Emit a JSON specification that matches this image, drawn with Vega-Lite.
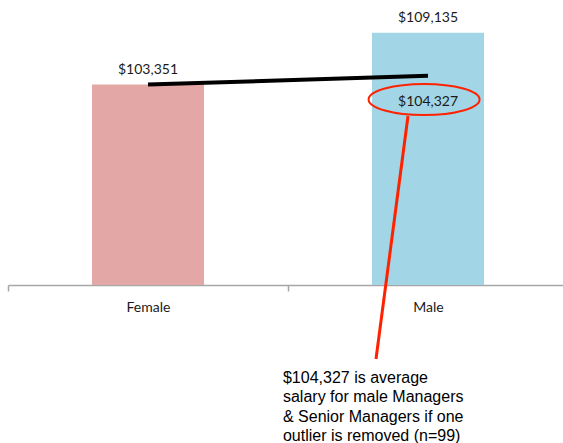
{
  "$schema": "https://vega.github.io/schema/vega-lite/v6.json",
  "width": 560,
  "height": 260,
  "autosize": {"type": "none"},
  "padding": {"left": 8, "top": 25, "right": 0, "bottom": 158},
  "background": "white",
  "config": {"view": {"stroke": null}, "font": "Lato"},
  "datasets": {
    "bars": [
      {"gender": "Female", "salary": 103351, "label": "$103,351"},
      {"gender": "Male", "salary": 109135, "label": "$109,135"}
    ],
    "trend": [
      {"pos": 0.5, "salary": 103351},
      {"pos": 1.5, "salary": 104327}
    ],
    "callout": [
      {"pos": 1.486, "salary": 101690, "label": "$104,327"}
    ],
    "pointer": [
      {"pos": 1.4286, "salary": 99850},
      {"pos": 1.3143, "salary": 72750}
    ],
    "note": [
      {"pos": 0.982, "salary": 70070, "text": "$104,327 is average\nsalary for male Managers\n& Senior Managers if one\noutlier is removed (n=99)"}
    ]
  },
  "layer": [
    {
      "data": {"name": "bars"},
      "layer": [
        {
          "mark": {"type": "bar", "width": {"band": 0.4}},
          "encoding": {
            "x": {
              "field": "gender",
              "type": "nominal",
              "scale": {"paddingInner": 0, "paddingOuter": 0},
              "axis": {
                "title": null,
                "labelAngle": 0,
                "tickBand": "extent",
                "domainColor": "#a6a6a6",
                "domainWidth": 1.5,
                "tickColor": "#a6a6a6",
                "tickWidth": 1.5,
                "tickSize": 6,
                "labelPadding": 9,
                "labelFont": "Lato",
                "labelFontSize": 14,
                "labelColor": "#1a1a1a"
              }
            },
            "y": {
              "field": "salary",
              "type": "quantitative",
              "scale": {"domain": [81000, 110000], "nice": false, "zero": false},
              "axis": null
            },
            "y2": {"datum": 81000},
            "color": {
              "field": "gender",
              "type": "nominal",
              "scale": {"domain": ["Female", "Male"], "range": ["#e3a7a5", "#a2d5e5"]},
              "legend": null
            }
          }
        },
        {
          "mark": {"type": "text", "baseline": "alphabetic", "dy": -11, "fontSize": 14, "font": "Lato", "color": "#1a1a1a"},
          "encoding": {
            "x": {"field": "gender", "type": "nominal"},
            "y": {"field": "salary", "type": "quantitative"},
            "text": {"field": "label"}
          }
        }
      ]
    },
    {
      "layer": [
        {
          "data": {"name": "trend"},
          "mark": {"type": "line", "color": "#000000", "strokeWidth": 4},
          "encoding": {
            "x": {"field": "pos", "type": "quantitative", "scale": {"domain": [0, 2], "nice": false, "zero": false}, "axis": null},
            "y": {"field": "salary", "type": "quantitative"}
          }
        },
        {
          "data": {"name": "pointer"},
          "mark": {"type": "line", "color": "#ff2200", "strokeWidth": 3},
          "encoding": {
            "x": {"field": "pos", "type": "quantitative"},
            "y": {"field": "salary", "type": "quantitative"}
          }
        },
        {
          "data": {"name": "callout"},
          "mark": {"type": "point", "shape": "M-1,0A1,0.28,0,1,1,1,0A1,0.28,0,1,1,-1,0Z", "size": 12321, "filled": false, "stroke": "#ff2200", "strokeWidth": 2, "opacity": 1},
          "encoding": {
            "x": {"field": "pos", "type": "quantitative"},
            "y": {"field": "salary", "type": "quantitative"}
          }
        },
        {
          "data": {"name": "callout"},
          "mark": {"type": "text", "baseline": "middle", "dx": 4, "dy": 2, "fontSize": 14, "font": "Lato", "color": "#1a1a1a"},
          "encoding": {
            "x": {"field": "pos", "type": "quantitative"},
            "y": {"field": "salary", "type": "quantitative"},
            "text": {"field": "label"}
          }
        },
        {
          "data": {"name": "note"},
          "mark": {"type": "text", "align": "left", "baseline": "alphabetic", "lineBreak": "\n", "lineHeight": 19.5, "fontSize": 16, "font": "Liberation Sans", "color": "#000000"},
          "encoding": {
            "x": {"field": "pos", "type": "quantitative"},
            "y": {"field": "salary", "type": "quantitative"},
            "text": {"field": "text"}
          }
        }
      ]
    }
  ],
  "resolve": {"scale": {"x": "independent"}}
}
